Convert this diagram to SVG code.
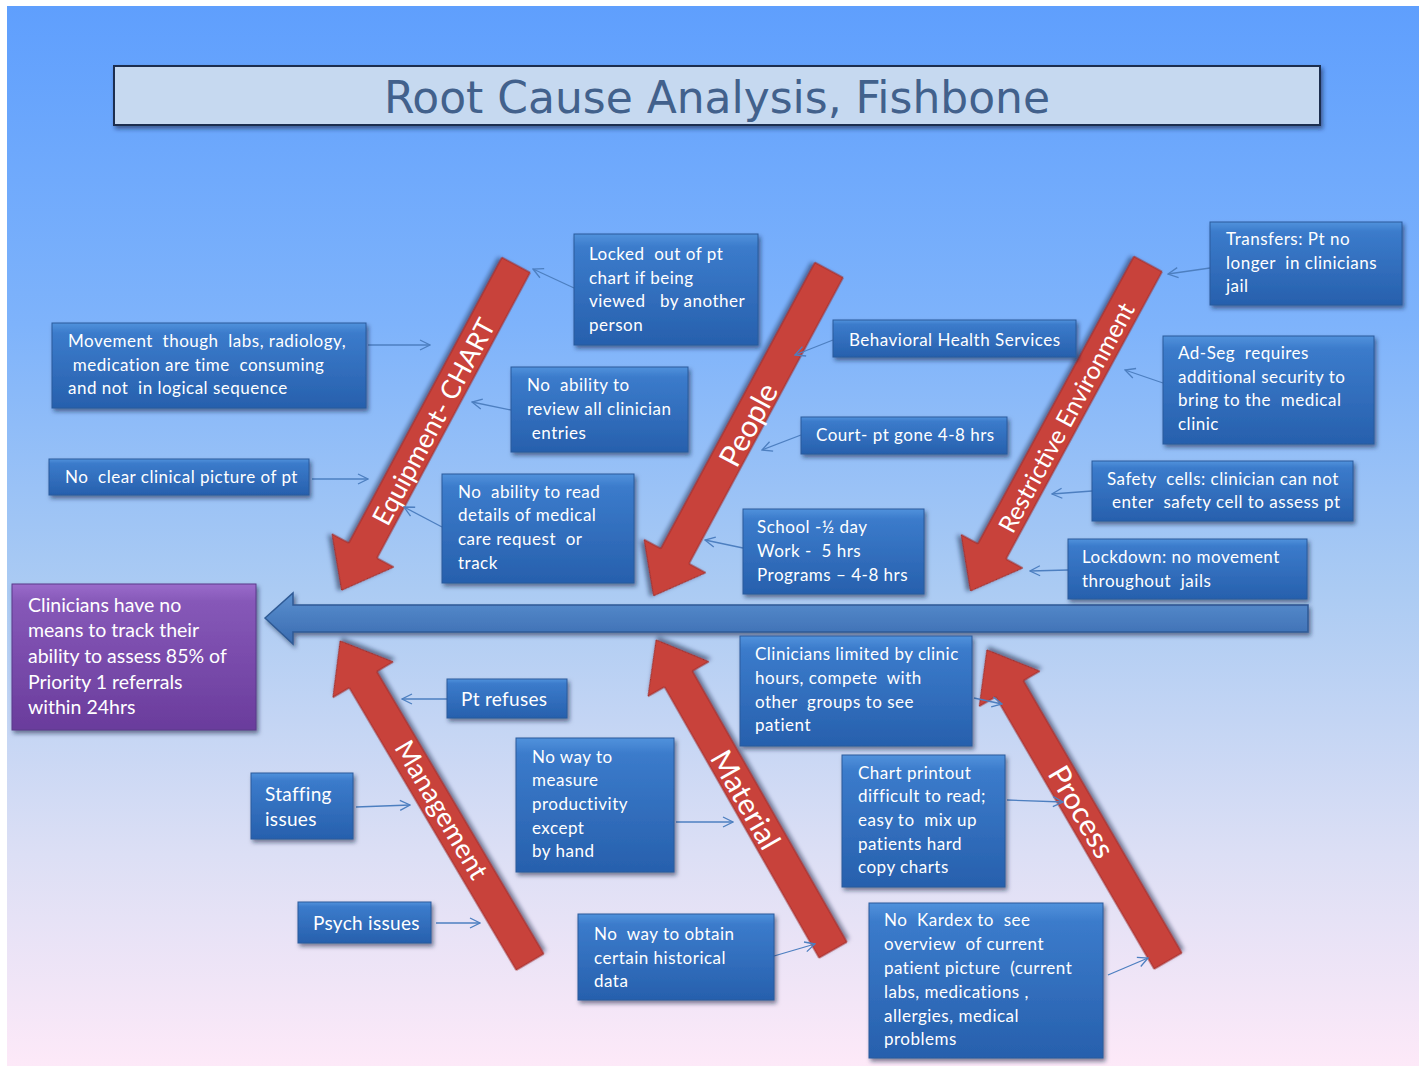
<svg xmlns="http://www.w3.org/2000/svg" width="1419" height="1066" viewBox="0 0 1419 1066">
<defs>
<linearGradient id="bg" x1="0" y1="0" x2="0" y2="1">
<stop offset="0" stop-color="#5f9ffd"/>
<stop offset="0.3" stop-color="#7eb3fb"/>
<stop offset="0.55" stop-color="#abcbf3"/>
<stop offset="0.8" stop-color="#dcdff5"/>
<stop offset="1" stop-color="#fde9f8"/>
</linearGradient>
<linearGradient id="bx" x1="0" y1="0" x2="0" y2="1">
<stop offset="0" stop-color="#5192dc"/>
<stop offset="0.12" stop-color="#3b7bcb"/>
<stop offset="1" stop-color="#2760ad"/>
</linearGradient>
<linearGradient id="pu" x1="0" y1="0" x2="0" y2="1">
<stop offset="0" stop-color="#9a6ccb"/>
<stop offset="0.12" stop-color="#8658b8"/>
<stop offset="1" stop-color="#6a3c9c"/>
</linearGradient>
<linearGradient id="sp" x1="0" y1="0" x2="0" y2="1">
<stop offset="0" stop-color="#5a90d0"/>
<stop offset="1" stop-color="#3a6bb0"/>
</linearGradient>
<filter id="sh" x="-10%" y="-10%" width="130%" height="140%">
<feDropShadow dx="2" dy="3" stdDeviation="2" flood-color="#10203f" flood-opacity="0.55"/>
</filter>
<marker id="a" viewBox="0 0 12 12" refX="11" refY="6" markerWidth="12" markerHeight="12" orient="auto" markerUnits="userSpaceOnUse">
<path d="M1,1 L11,6 L1,11" fill="none" stroke="#4d7fc0" stroke-width="1.3"/>
</marker>
<style>
.box{fill:url(#bx);stroke:#2a5a9c;stroke-width:1;filter:url(#sh);}
.t{font-family:Lato,"Liberation Sans",sans-serif;font-size:17px;fill:#ffffff;letter-spacing:0.5px;white-space:pre;}
.tb{font-family:Lato,"Liberation Sans",sans-serif;font-size:19px;fill:#ffffff;letter-spacing:0.3px;white-space:pre;}
.te{font-family:Lato,"Liberation Sans",sans-serif;font-size:19.5px;fill:#ffffff;}
.arr{fill:#c8423b;stroke:#9e2a26;stroke-width:1;filter:url(#sh);}
.at{font-family:Lato,"Liberation Sans",sans-serif;fill:#ffffff;text-anchor:middle;}
.c{fill:none;stroke:#4d7fc0;stroke-width:1.3;marker-end:url(#a);}
</style>
</defs>

<rect x="0" y="0" width="1419" height="1066" fill="#ffffff"/>
<rect x="7" y="6" width="1412" height="1060" fill="url(#bg)"/>

<g id="title">
<rect x="114" y="66" width="1206" height="59" fill="#c6d9f0" stroke="#1f2d4f" stroke-width="2" filter="url(#sh)"/>
<text x="717" y="113" text-anchor="middle" font-family="'DejaVu Sans Condensed','DejaVu Sans',sans-serif" font-size="44" fill="#42618c" textLength="666" lengthAdjust="spacingAndGlyphs">Root Cause Analysis, Fishbone</text>
</g>

<g id="spine">
<polygon points="265,618 293,593 293,605 1308,605 1308,632 293,632 293,644" fill="url(#sp)" stroke="#2f5a95" stroke-width="1.5" filter="url(#sh)"/>
</g>

<g id="effect">
<rect x="12" y="584" width="244" height="146" fill="url(#pu)" stroke="#5a3a8a" stroke-width="1" filter="url(#sh)"/>
<text class="te" x="28" y="612">Clinicians have no</text>
<text class="te" x="28" y="637">means to track their</text>
<text class="te" x="28" y="663">ability to assess 85% of</text>
<text class="te" x="28" y="689">Priority 1 referrals</text>
<text class="te" x="28" y="714">within 24hrs</text>
</g>

<g id="bone-equipment">
<g transform="translate(516,265) rotate(118.2)"><polygon class="arr" points="0,-16 324,-16 324,-35 369,0 324,35 324,16 0,16"/></g>
<text class="at" font-size="26.5" transform="translate(434,422) rotate(-61.8)" dy="9">Equipment- CHART</text>
</g>
<g id="bone-people">
<g transform="translate(829,270) rotate(118.3)"><polygon class="arr" points="0,-16 325,-16 325,-35 370,0 325,35 325,16 0,16"/></g>
<text class="at" font-size="30" transform="translate(749,425) rotate(-61.7)" dy="10">People</text>
</g>
<g id="bone-restrictive">
<g transform="translate(1148,264) rotate(118.5)"><polygon class="arr" points="0,-16 327,-16 327,-35 372,0 327,35 327,16 0,16"/></g>
<text class="at" font-size="24.5" transform="translate(1067,418) rotate(-61.5)" dy="8">Restrictive Environment</text>
</g>
<g id="bone-management">
<g transform="translate(530,962) rotate(-120.6)"><polygon class="arr" points="0,-16 328,-16 328,-35 373,0 328,35 328,16 0,16"/></g>
<text class="at" font-size="27" transform="translate(441,810) rotate(59.4)" dy="9">Management</text>
</g>
<g id="bone-material">
<g transform="translate(833,950) rotate(-119.7)"><polygon class="arr" points="0,-16 312,-16 312,-35 357,0 312,35 312,16 0,16"/></g>
<text class="at" font-size="30" transform="translate(745,800) rotate(60.3)" dy="10">Material</text>
</g>
<g id="bone-process">
<g transform="translate(1168,961) rotate(-120.2)"><polygon class="arr" points="0,-16 315,-16 315,-35 360,0 315,35 315,16 0,16"/></g>
<text class="at" font-size="30" transform="translate(1081,812) rotate(59.8)" dy="10">Process</text>
</g>

<g id="connectors">
<line class="c" x1="368" y1="345" x2="430" y2="345"/>
<line class="c" x1="312" y1="479" x2="368" y2="479"/>
<line class="c" x1="574" y1="288" x2="533" y2="269"/>
<line class="c" x1="511" y1="410" x2="472" y2="402"/>
<line class="c" x1="442" y1="527" x2="404" y2="507"/>
<line class="c" x1="833" y1="340" x2="795" y2="355"/>
<line class="c" x1="801" y1="435" x2="762" y2="450"/>
<line class="c" x1="743" y1="548" x2="705" y2="540"/>
<line class="c" x1="1210" y1="268" x2="1168" y2="274"/>
<line class="c" x1="1163" y1="383" x2="1125" y2="370"/>
<line class="c" x1="1092" y1="491" x2="1052" y2="494"/>
<line class="c" x1="1068" y1="570" x2="1030" y2="571"/>
<line class="c" x1="447" y1="699" x2="402" y2="699"/>
<line class="c" x1="356" y1="807" x2="410" y2="805"/>
<line class="c" x1="436" y1="923" x2="480" y2="923"/>
<line class="c" x1="676" y1="822" x2="733" y2="822"/>
<line class="c" x1="774" y1="956" x2="815" y2="944"/>
<line class="c" x1="974" y1="698" x2="1002" y2="704"/>
<line class="c" x1="1007" y1="800" x2="1063" y2="802"/>
<line class="c" x1="1108" y1="975" x2="1148" y2="958"/>
</g>

<g id="n-movement">
<rect class="box" x="52" y="323" width="314" height="85"/>
<text class="t" x="68" y="347">Movement  though  labs, radiology,</text>
<text class="t" x="68" y="371"> medication are time  consuming</text>
<text class="t" x="68" y="394">and not  in logical sequence</text>
</g>
<g id="n-noclear">
<rect class="box" x="49" y="459" width="260" height="36"/>
<text class="t" x="65" y="483">No  clear clinical picture of pt</text>
</g>
<g id="n-locked">
<rect class="box" x="574" y="234" width="184" height="111"/>
<text class="t" x="589" y="260">Locked  out of pt</text>
<text class="t" x="589" y="284">chart if being</text>
<text class="t" x="589" y="307">viewed   by another</text>
<text class="t" x="589" y="331">person</text>
</g>
<g id="n-review">
<rect class="box" x="511" y="367" width="177" height="85"/>
<text class="t" x="527" y="391">No  ability to</text>
<text class="t" x="527" y="415">review all clinician</text>
<text class="t" x="527" y="439"> entries</text>
</g>
<g id="n-read">
<rect class="box" x="442" y="474" width="192" height="109"/>
<text class="t" x="458" y="498">No  ability to read</text>
<text class="t" x="458" y="521">details of medical</text>
<text class="t" x="458" y="545">care request  or</text>
<text class="t" x="458" y="569">track</text>
</g>
<g id="n-behavioral">
<rect class="box" x="833" y="320" width="243" height="37"/>
<text class="t" x="849" y="346">Behavioral Health Services</text>
</g>
<g id="n-court">
<rect class="box" x="801" y="417" width="206" height="37"/>
<text class="t" x="816" y="441">Court- pt gone 4-8 hrs</text>
</g>
<g id="n-school">
<rect class="box" x="743" y="509" width="181" height="85"/>
<text class="t" x="757" y="533">School -½ day</text>
<text class="t" x="757" y="557">Work -  5 hrs</text>
<text class="t" x="757" y="581">Programs – 4-8 hrs</text>
</g>
<g id="n-transfers">
<rect class="box" x="1210" y="222" width="192" height="83"/>
<text class="t" x="1226" y="245">Transfers: Pt no</text>
<text class="t" x="1226" y="269">longer  in clinicians</text>
<text class="t" x="1226" y="292">jail</text>
</g>
<g id="n-adseg">
<rect class="box" x="1163" y="336" width="211" height="108"/>
<text class="t" x="1178" y="359">Ad-Seg  requires</text>
<text class="t" x="1178" y="383">additional security to</text>
<text class="t" x="1178" y="406">bring to the  medical</text>
<text class="t" x="1178" y="430">clinic</text>
</g>
<g id="n-safety">
<rect class="box" x="1092" y="461" width="261" height="60"/>
<text class="t" x="1107" y="485">Safety  cells: clinician can not</text>
<text class="t" x="1112" y="508">enter  safety cell to assess pt</text>
</g>
<g id="n-lockdown">
<rect class="box" x="1068" y="539" width="239" height="60"/>
<text class="t" x="1082" y="563">Lockdown: no movement</text>
<text class="t" x="1082" y="587">throughout  jails</text>
</g>
<g id="n-ptrefuses">
<rect class="box" x="447" y="679" width="120" height="39"/>
<text class="tb" x="461" y="706">Pt refuses</text>
</g>
<g id="n-staffing">
<rect class="box" x="251" y="773" width="102" height="66"/>
<text class="tb" x="265" y="801">Staffing</text>
<text class="tb" x="265" y="826">issues</text>
</g>
<g id="n-psych">
<rect class="box" x="298" y="902" width="133" height="41"/>
<text class="tb" x="313" y="930">Psych issues</text>
</g>
<g id="n-measure">
<rect class="box" x="516" y="738" width="158" height="134"/>
<text class="t" x="532" y="763">No way to</text>
<text class="t" x="532" y="786">measure</text>
<text class="t" x="532" y="810">productivity</text>
<text class="t" x="532" y="834">except</text>
<text class="t" x="532" y="857">by hand</text>
</g>
<g id="n-historical">
<rect class="box" x="578" y="914" width="196" height="86"/>
<text class="t" x="594" y="940">No  way to obtain</text>
<text class="t" x="594" y="964">certain historical</text>
<text class="t" x="594" y="987">data</text>
</g>
<g id="n-cliniclimited">
<rect class="box" x="740" y="636" width="232" height="110"/>
<text class="t" x="755" y="660">Clinicians limited by clinic</text>
<text class="t" x="755" y="684">hours, compete  with</text>
<text class="t" x="755" y="708">other  groups to see</text>
<text class="t" x="755" y="731">patient</text>
</g>
<g id="n-printout">
<rect class="box" x="842" y="755" width="163" height="132"/>
<text class="t" x="858" y="779">Chart printout</text>
<text class="t" x="858" y="802">difficult to read;</text>
<text class="t" x="858" y="826">easy to  mix up</text>
<text class="t" x="858" y="850">patients hard</text>
<text class="t" x="858" y="873">copy charts</text>
</g>
<g id="n-kardex">
<rect class="box" x="869" y="903" width="234" height="155"/>
<text class="t" x="884" y="926">No  Kardex to  see</text>
<text class="t" x="884" y="950">overview  of current</text>
<text class="t" x="884" y="974">patient picture  (current</text>
<text class="t" x="884" y="998">labs, medications ,</text>
<text class="t" x="884" y="1022">allergies, medical</text>
<text class="t" x="884" y="1045">problems</text>
</g>
</svg>
